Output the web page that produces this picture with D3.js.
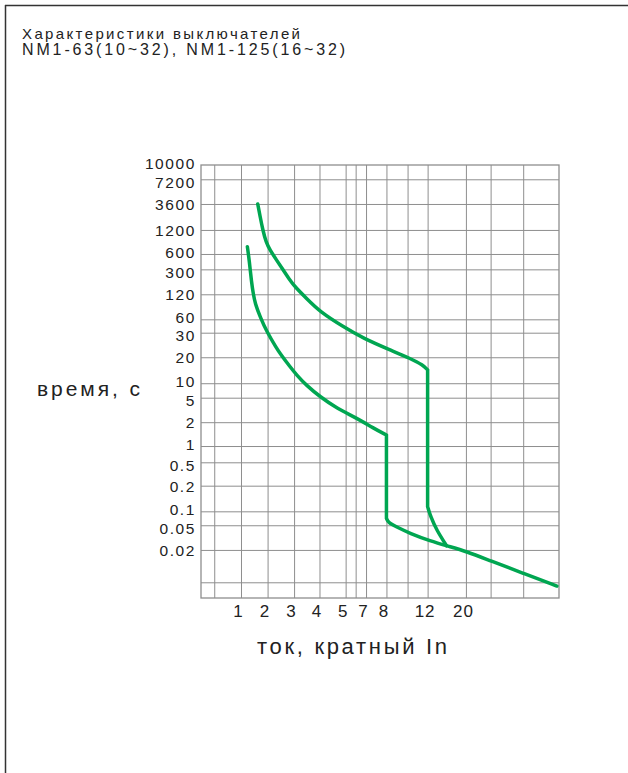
<!DOCTYPE html>
<html>
<head>
<meta charset="utf-8">
<script src="https://cdn.jsdelivr.net/npm/d3@7"></script>
<style>
  html, body { margin: 0; padding: 0; background: #fff; }
  svg { display: block; }
  text { font-family: "Liberation Sans", Arial, Helvetica, sans-serif; fill: #222; }
</style>
</head>
<body>
<svg id="chart" width="628" height="773"></svg>
<script>
// ---------- DATA ----------
const titleLines = ["Характеристики   выключателей", "NM1-63(10~32), NM1-125(16~32)"];
const yAxisTitle = "время, с";
const xAxisTitle = "ток, кратный   In";

// current multiples (x) that carry a label / a grid line
const xTickLabels = [1, 2, 3, 4, 5, 7, 8, 12, 20];
const xGridValues = [0.5, 1, 2, 3, 4, 5, 6, 7, 8, 10, 12, 20, 30, 40];
// x-axis stops of the (non-uniform) printed grid
const xStops = [0, 0.5, 1, 2, 3, 4, 5, 6, 7, 8, 10, 12, 20, 30, 40, 50];

// times in seconds (y)
const yTickLabels = [10000, 7200, 3600, 1200, 600, 300, 120, 60, 30, 20, 10, 5, 2, 1, 0.5, 0.2, 0.1, 0.05, 0.02];
const yGridValues = [7200, 3600, 1200, 600, 300, 120, 60, 30, 20, 10, 5, 2, 1, 0.5, 0.2, 0.1, 0.05, 0.02, 0.01];
const yStops = [10000, 7200, 3600, 1200, 600, 300, 120, 60, 30, 20, 10, 5, 2, 1, 0.5, 0.2, 0.1, 0.05, 0.02, 0.01, 0.005];

// tripping curves: [current multiple, time s]
const curveLow = [
  [1.24, 780], [1.31, 480], [1.40, 200], [1.46, 127], [1.53, 98], [1.72, 66], [1.97, 32],
  [2.34, 23.7], [2.47, 21.6], [2.84, 16.4], [3.10, 13.2], [3.49, 9.2], [4.02, 5.35],
  [4.66, 3.7], [6.1, 2.5], [7.36, 1.75], [8, 1.46],
  [8, 0.075], [8.17, 0.059], [8.96, 0.048], [10.23, 0.040], [12.48, 0.031],
  [16.66, 0.024], [20.28, 0.0195], [29.7, 0.0167], [40, 0.0128], [49.4, 0.0088]
];
const curveHigh = [
  [1.63, 3600], [1.72, 2430], [1.82, 1200], [1.94, 900], [2.09, 700], [2.34, 480],
  [2.59, 295], [2.84, 223], [3.03, 175], [3.49, 110], [4.02, 78], [4.92, 43],
  [6.74, 27.7], [8.33, 23], [10.23, 19.6], [11.56, 17], [12, 15.1],
  [12, 0.118], [12.63, 0.081], [13.88, 0.044], [15.97, 0.025]
];

// ---------- LAYOUT ----------
const plot = { left: 201, top: 165, width: 358, height: 433 };
// relative positions of the printed grid stops (fractions of plot size)
const xStopFrac = [0, 0.037, 0.1117, 0.186, 0.260, 0.331, 0.404, 0.432, 0.461, 0.518, 0.577, 0.633, 0.740, 0.809, 0.900, 1];
const yStopFrac = [0, 0.033, 0.090, 0.150, 0.2055, 0.241, 0.2986, 0.3564, 0.3873, 0.444, 0.504, 0.5374, 0.594, 0.649, 0.6866, 0.7406, 0.7998, 0.832, 0.889, 0.9637, 1];

const GREEN = "#00a651";
const GRID = "#8e8e8e";
const FONT = '"Liberation Sans", Arial, sans-serif';

const svg = d3.select("#chart");

// frame of the page (top + left edges)
svg.append("line").attr("x1", 5).attr("x2", 628).attr("y1", 5.5).attr("y2", 5.5)
  .attr("stroke", "#333").attr("stroke-width", 1.5);
svg.append("line").attr("x1", 5.5).attr("x2", 5.5).attr("y1", 5).attr("y2", 773)
  .attr("stroke", "#333").attr("stroke-width", 1.5);

// title
svg.append("text").attr("x", 22).attr("y", 38.5).attr("font-size", 15)
  .attr("textLength", 278).attr("lengthAdjust", "spacing").text(titleLines[0]);
svg.append("text").attr("x", 22).attr("y", 55).attr("font-size", 16)
  .attr("textLength", 323).attr("lengthAdjust", "spacing").text(titleLines[1]);

// scales
const x = d3.scaleLinear().domain(xStops).range(xStopFrac.map(f => plot.left + f * plot.width));
const y = d3.scaleLinear().domain(yStops).range(yStopFrac.map(f => plot.top + f * plot.height));

const g = svg.append("g");

// grid lines via axes
const xGrid = g.append("g").attr("transform", `translate(0,${plot.top + plot.height})`)
  .call(d3.axisBottom(x).tickValues(xGridValues).tickSize(-plot.height).tickFormat(""));
xGrid.select(".domain").remove();
xGrid.selectAll(".tick line").attr("stroke", GRID).attr("stroke-width", 1);

const yGrid = g.append("g").attr("transform", `translate(${plot.left},0)`)
  .call(d3.axisLeft(y).tickValues(yGridValues).tickSize(-plot.width).tickFormat(""));
yGrid.select(".domain").remove();
yGrid.selectAll(".tick line").attr("stroke", GRID).attr("stroke-width", 1);

// plot frame
g.append("rect").attr("x", plot.left).attr("y", plot.top)
  .attr("width", plot.width).attr("height", plot.height)
  .attr("fill", "none").attr("stroke", GRID).attr("stroke-width", 1.3);

// y tick labels (tight neighbours are nudged apart a little, as printed)
const yAxis = g.append("g").attr("transform", `translate(${plot.left},0)`)
  .call(d3.axisLeft(y).tickValues(yTickLabels).tickSize(0).tickPadding(5).tickFormat(d => String(d)));
yAxis.select(".domain").remove();
yAxis.selectAll("text").attr("font-size", 15.5).attr("fill", "#222")
  .attr("font-family", FONT).attr("letter-spacing", 1.6)
  .attr("dy", (d, i) => {
    const p = y(d);
    const prev = i > 0 ? p - y(yTickLabels[i - 1]) : 99;
    const next = i < yTickLabels.length - 1 ? y(yTickLabels[i + 1]) - p : 99;
    let shift = 0;
    if (prev < 16.5) shift += 2.5;
    if (next < 16.5) shift -= 2.5;
    return (0.36 * 15.5 + shift) + "px";
  });

// x tick labels
const xAxis = g.append("g").attr("transform", `translate(0,${plot.top + plot.height})`)
  .call(d3.axisBottom(x).tickValues(xTickLabels).tickSize(0).tickPadding(7).tickFormat(d => String(d)));
xAxis.select(".domain").remove();
xAxis.selectAll("text").attr("font-size", 17).attr("fill", "#222")
  .attr("font-family", FONT).attr("letter-spacing", 1).attr("dx", -3);

// axis titles
svg.append("text").attr("x", 37).attr("y", 396).attr("font-size", 21)
  .attr("textLength", 103).attr("lengthAdjust", "spacing").text(yAxisTitle);
svg.append("text").attr("x", 257).attr("y", 654).attr("font-size", 22)
  .attr("textLength", 190).attr("lengthAdjust", "spacing").text(xAxisTitle);

// curves: smooth parts + straight vertical (instantaneous) parts
function splitCurve(c) {
  const parts = [];
  let start = 0;
  for (let i = 0; i < c.length - 1; i++) {
    if (c[i][0] === c[i + 1][0]) {
      parts.push({ pts: c.slice(start, i + 1), smooth: true });
      parts.push({ pts: c.slice(i, i + 2), smooth: false });
      start = i + 1;
    }
  }
  parts.push({ pts: c.slice(start), smooth: true });
  return parts;
}
const smoothLine = d3.line().x(d => x(d[0])).y(d => y(d[1])).curve(d3.curveBasis);
const straightLine = d3.line().x(d => x(d[0])).y(d => y(d[1]));

[curveLow, curveHigh].forEach(c => {
  const d = splitCurve(c).map(p => (p.smooth ? smoothLine : straightLine)(p.pts)).join("");
  g.append("path").attr("d", d)
    .attr("fill", "none").attr("stroke", GREEN).attr("stroke-width", 3.5)
    .attr("stroke-linejoin", "round").attr("stroke-linecap", "round");
});
</script>
</body>
</html>
